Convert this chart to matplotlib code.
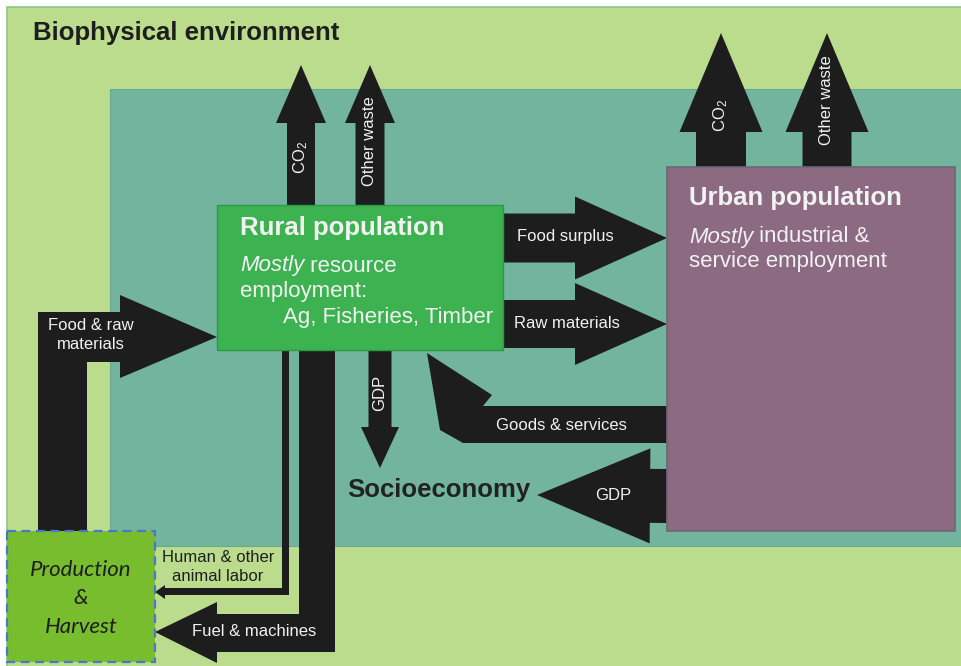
import matplotlib
matplotlib.use('Agg')
import matplotlib.pyplot as plt
from matplotlib.patches import Rectangle, Polygon
import numpy as np

plt.rcParams['font.family'] = ['Liberation Sans', 'DejaVu Sans']
plt.rcParams['mathtext.fontset'] = 'custom'
plt.rcParams['mathtext.rm'] = 'Liberation Sans'
plt.rcParams['mathtext.default'] = 'regular'

# colores
bg_green = '#bcdc8d'
teal = '#72b49e'
rural_green = '#3cb250'
urban_purple = '#8b6a82'
prod_green = '#78bd2e'
arrow_black = '#1e1d1d'
txt_white = '#f2f2f2'
txt_dark = '#1e1e1e'

# caixas: (x, y, largura, altura) em pixels, y para baixo
outer_box = (7, 7, 960, 665)
socio_box = (110, 89, 860, 457)
rural_box = (217, 205, 286, 145)
urban_box = (667, 167, 288, 364)
prod_box = (7, 531, 148, 131)

# setas retas: (cauda, ponta, largura haste, largura cabeca, comprimento cabeca)
setas_retas = {
    'co2_rural':   ((301, 205), (301, 65), 28, 50, 58),
    'waste_rural': ((370, 205), (370, 65), 29, 50, 58),
    'co2_urban':   ((721, 167), (721, 33), 50, 83, 99),
    'waste_urban': ((827, 167), (827, 33), 49, 83, 99),
    'food':        ((503, 238), (667, 238), 49, 83, 92),
    'raw':         ((503, 324), (667, 324), 48, 82, 92),
    'gdp_down':    ((380, 350), (380, 468), 23, 38, 41),
    'gdp_left':    ((667, 496), (537, 495), 54, 95, 113),
}

# setas dobradas (contorno)
seta_food_raw = [(38, 531), (38, 312), (120, 312), (120, 295), (217, 337),
                 (120, 378), (120, 362), (87, 362), (87, 531)]
seta_fuel = [(299, 350), (335, 350), (335, 652), (217, 652), (217, 663),
             (155, 632), (217, 602), (217, 614), (299, 614)]
seta_labor = [(282, 350), (289, 350), (289, 595), (165, 595), (165, 599),
              (155, 592), (165, 585), (165, 588), (282, 588)]
seta_goods = [(667, 406), (483, 406), (492, 395), (427, 353), (440, 430),
              (463, 443), (667, 443)]

# rotulos das setas: (texto, x, y, rotacao, cor)
rotulos_setas = [
    ('Food surplus', 565, 237, 0, txt_white),
    ('Raw materials', 567, 323, 0, txt_white),
    ('Goods & services', 561, 425, 0, txt_white),
    ('GDP', 613, 495, 0, txt_white),
    ('Food & raw\nmaterials', 91, 335, 0, txt_white),
    ('Fuel & machines', 254, 632, 0, txt_white),
    ('Human & other\nanimal labor', 218, 567, 0, txt_dark),
    ('GDP', 380, 393, 90, txt_white),
    ('CO$_2$', 301, 157, 90, txt_white),
    ('Other waste', 370, 141, 90, txt_white),
    ('CO$_2$', 721, 115, 90, txt_white),
    ('Other waste', 827, 100, 90, txt_white),
]


def seta_reta(cauda, ponta, w_haste, w_cab, l_cab):
    p0 = np.array(cauda, float)
    p1 = np.array(ponta, float)
    d = (p1 - p0) / np.linalg.norm(p1 - p0)
    n = np.array([-d[1], d[0]])
    base = p1 - d * l_cab
    pts = [p0 + n * w_haste / 2, base + n * w_haste / 2, base + n * w_cab / 2,
           p1, base - n * w_cab / 2, base - n * w_haste / 2, p0 - n * w_haste / 2]
    return pts


def caixa(ax, box, cor, borda, lw=1.0, ls='-', z=1):
    x, y, w, h = box
    ax.add_patch(Rectangle((x, y), w, h, facecolor=cor, edgecolor=borda,
                           linewidth=lw, linestyle=ls, zorder=z))


fig = plt.figure(figsize=(9.62, 6.66), dpi=100)
ax = fig.add_axes([0, 0, 1, 1])
ax.set_xlim(0, 962)
ax.set_ylim(666, 0)
ax.axis('off')

caixa(ax, outer_box, bg_green, '#8cc48a', lw=1.2, z=0)
caixa(ax, socio_box, teal, '#6aa892', lw=0.8, z=1)

for cauda, ponta, ws, wc, lc in setas_retas.values():
    ax.add_patch(Polygon(seta_reta(cauda, ponta, ws, wc, lc), closed=True,
                         facecolor=arrow_black, edgecolor='none', zorder=3))
for pts in [seta_food_raw, seta_fuel, seta_labor, seta_goods]:
    ax.add_patch(Polygon(pts, closed=True, facecolor=arrow_black,
                         edgecolor='none', zorder=3))

caixa(ax, rural_box, rural_green, '#2c9a45', lw=1.0, z=4)
caixa(ax, urban_box, urban_purple, '#6f6676', lw=1.2, z=4)
caixa(ax, prod_box, prod_green, '#4a78c8', lw=1.6, ls=(0, (4, 2.5)), z=4)

for txt, x, y, rot, cor in rotulos_setas:
    ax.text(x, y, txt, rotation=rot, color=cor, fontsize=12, ha='center',
            va='center', linespacing=1.4, zorder=5)

# titulos
ax.text(33, 33, 'Biophysical environment', fontsize=18.5, fontweight='bold',
        color=txt_dark, va='center', ha='left', zorder=5)
ax.text(347, 490, 'Socioeconomy', fontsize=18.5, fontweight='bold',
        color='#222222', va='center', ha='left', zorder=5)

# caixa rural
ax.text(240, 228, 'Rural population', fontsize=18.5, fontweight='bold',
        color=txt_white, va='center', zorder=5)
t = ax.text(240, 266, 'Mostly', fontsize=16, style='italic', color=txt_white,
            va='center', zorder=5)
ax.annotate(' resource', xy=(1, 0.5), xycoords=t, fontsize=16, color=txt_white,
            va='center', ha='left', zorder=5)
ax.text(240, 292, 'employment:', fontsize=16, color=txt_white, va='center', zorder=5)
ax.text(283, 318, 'Ag, Fisheries, Timber', fontsize=16, color=txt_white,
        va='center', zorder=5)

# caixa urbana
ax.text(689, 198, 'Urban population', fontsize=18.5, fontweight='bold',
        color=txt_white, va='center', zorder=5)
t2 = ax.text(689, 237, 'Mostly', fontsize=16, style='italic', color=txt_white,
             va='center', zorder=5)
ax.annotate(' industrial &', xy=(1, 0.5), xycoords=t2, fontsize=16,
            color=txt_white, va='center', ha='left', zorder=5)
ax.text(689, 262, 'service employment', fontsize=16, color=txt_white,
        va='center', zorder=5)

# producao
for linha, yy in zip(['Production', '&', 'Harvest'], [570, 598, 627]):
    ax.text(81, yy, linha, fontsize=16, style='italic', color=txt_dark,
            family=['Lato', 'DejaVu Sans'], ha='center', va='center', zorder=5)

fig.savefig('out.png', dpi=100)
